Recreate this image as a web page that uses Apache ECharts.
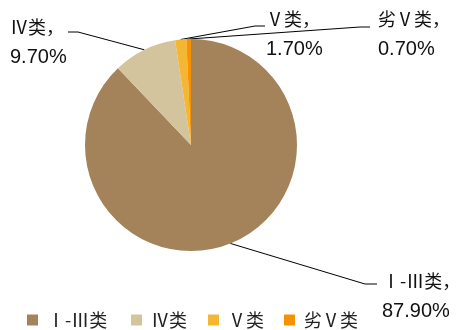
<!DOCTYPE html>
<html><head><meta charset="utf-8">
<script src="https://cdn.jsdelivr.net/npm/echarts@6/dist/echarts.min.js"></script>
<style>html,body{margin:0;padding:0;background:#fff}#c{width:456px;height:330px}</style>
</head><body><div id="c"></div>
<script>
const categories = ['Ⅰ-Ⅲ类', 'Ⅳ类', 'Ⅴ类', '劣Ⅴ类'];
const labelNames = ['Ⅰ-Ⅲ类，', 'Ⅳ类，', 'Ⅴ类，', '劣Ⅴ类，'];
const values = [87.9, 9.7, 1.7, 0.7];
const colors = ['#A4825A', '#D4C49E', '#F4B733', '#F69200'];

// label anchor positions and leader-line bends (layout only)
const labelPos = [
  {x: 382, y: 296, bx: 365, ex: 377, ly: 284},
  {x: 10, y: 42, bx: 78, ex: 68, ly: 32},
  {x: 266, y: 34, bx: 255, ex: 265, ly: 26},
  {x: 378, y: 34, bx: 360, ex: 370, ly: 27}
];
// legend item left offsets (layout only)
const legendLefts = [27, 131, 208, 284];

const chart = echarts.init(document.getElementById('c'));
chart.setOption({
  animation: false,
  color: colors,
  legend: categories.map((c, i) => ({
    top: 310, left: legendLefts[i], padding: 0,
    itemWidth: 11, itemHeight: 11,
    icon: 'rect',
    textStyle: {fontSize: 18, lineHeight: 20, color: '#222', fontFamily: '"Noto Sans CJK SC"', padding: [0, 0, 0, 4]},
    data: [c]
  })),
  series: [{
    type: 'pie',
    center: [191, 145],
    radius: 106,
    startAngle: 90,
    clockwise: true,
    data: categories.map((c, i) => ({name: c, value: values[i]})),
    label: {
      show: true,
      overflow: 'none',
      formatter: p => '{n|' + labelNames[p.dataIndex] + '}\n{v|' + values[p.dataIndex].toFixed(2) + '%}',
      align: 'left',
      rich: {
        n: {fontSize: 18, lineHeight: 30, color: '#111', fontFamily: '"Noto Sans CJK SC"', align: 'left'},
        v: {fontSize: 20, lineHeight: 30, color: '#111', fontFamily: '"Liberation Sans", Arial', align: 'left'}
      }
    },
    labelLine: {show: true, lineStyle: {color: '#000', width: 1}, length: 10, length2: 10},
    labelLayout: function (p) {
      const lp = labelPos[p.dataIndex];
      const start = p.labelLinePoints ? p.labelLinePoints[0] : [lp.bx, lp.ly];
      return {
        x: lp.x, y: lp.y, align: 'left', verticalAlign: 'middle',
        labelLinePoints: [start, [lp.bx, lp.ly], [lp.ex, lp.ly]]
      };
    }
  }]
});
</script></body></html>
